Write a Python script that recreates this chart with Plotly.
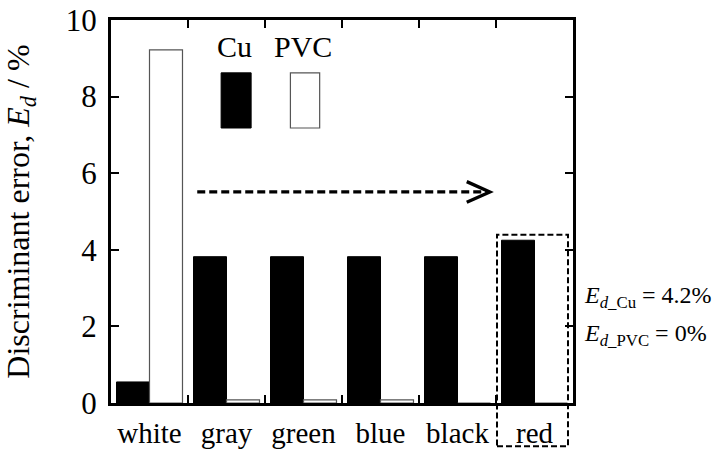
import plotly.graph_objects as go

categories = ["white", "gray", "green", "blue", "black", "red"]
cu_values = [0.55, 3.82, 3.82, 3.82, 3.82, 4.25]
pvc_values = [9.22, 0.08, 0.08, 0.08, 0.0, 0.0]
y_ticks = [0, 2, 4, 6, 8, 10]

FONT = "Liberation Serif, Times New Roman, serif"

fig = go.Figure()
fig.add_trace(go.Bar(x=categories, y=cu_values, name="Cu",
                     marker=dict(color="black", line=dict(color="black", width=1))))
fig.add_trace(go.Bar(x=categories, y=pvc_values, name="PVC",
                     marker=dict(color="white", line=dict(color="#555555", width=1.2))))

# plot area in pixels
W, H = 724, 450
L, R, T, B = 111, 151, 20, 47
n = len(categories)

def xpaper(xd):
    return (xd + 0.5) / n

def ypaper(yd):
    return yd / 10.0

shapes = []
# dashed arrow
shapes.append(dict(type="line", xref="x", yref="y", x0=0.62, x1=4.40, y0=5.51, y1=5.51,
                   line=dict(color="black", width=3.3, dash="8px,4px")))
shapes.append(dict(type="path", xref="x", yref="y",
                   path="M 4.12,5.78 L 4.42,5.51 L 4.12,5.24",
                   line=dict(color="black", width=3.3)))
# legend boxes
shapes.append(dict(type="rect", xref="x", yref="y", x0=0.93, x1=1.32, y0=7.18, y1=8.62,
                   fillcolor="black", line=dict(color="black", width=1)))
shapes.append(dict(type="rect", xref="x", yref="y", x0=1.83, x1=2.21, y0=7.18, y1=8.62,
                   fillcolor="white", line=dict(color="#555555", width=1.2)))
# dashed box around red
shapes.append(dict(type="rect", xref="paper", yref="paper",
                   x0=xpaper(4.513), x1=xpaper(5.435), y0=-0.113, y1=ypaper(4.39),
                   line=dict(color="black", width=2, dash="6px,3px")))

annotations = [
    dict(x=1.10, y=9.3, xref="x", yref="y", text="Cu", showarrow=False,
         font=dict(size=30, color="black", family=FONT)),
    dict(x=1.99, y=9.3, xref="x", yref="y", text="PVC", showarrow=False,
         font=dict(size=30, color="black", family=FONT)),
    dict(x=1.02, y=2.77, xref="paper", yref="y", xanchor="left",
         text="<i>E</i><sub><i>d</i>_Cu</sub> = 4.2%", showarrow=False,
         font=dict(size=24, color="black", family=FONT)),
    dict(x=1.02, y=1.78, xref="paper", yref="y", xanchor="left",
         text="<i>E</i><sub><i>d</i>_PVC</sub> = 0%", showarrow=False,
         font=dict(size=24, color="black", family=FONT)),
]

fig.update_layout(
    width=W, height=H,
    margin=dict(l=L, r=R, t=T, b=B, pad=0, autoexpand=False),
    paper_bgcolor="white", plot_bgcolor="white",
    barmode="group", bargap=0.143, bargroupgap=0,
    showlegend=False,
    font=dict(family=FONT, size=30, color="black"),
    shapes=shapes, annotations=annotations,
    xaxis=dict(type="category", tickson="boundaries", ticks="inside", ticklen=8,
               tickwidth=2, tickcolor="black", showline=True, linecolor="black",
               linewidth=3, mirror="ticks", showgrid=False, automargin=False,
               ticklabelstandoff=2,
               tickfont=dict(size=29, family=FONT, color="black")),
    yaxis=dict(range=[0, 10], tickvals=y_ticks, ticks="inside", ticklen=8,
               tickwidth=2, tickcolor="black", showline=True, linecolor="black",
               linewidth=3, mirror="ticks", showgrid=False, zeroline=False,
               automargin=False, ticklabelstandoff=5,
               tickfont=dict(size=31, family=FONT, color="black"),
               title=dict(text="Discriminant error, <i>E<sub>d</sub></i> / %",
                          font=dict(size=32, family=FONT, color="black"), standoff=28)),
)

fig.write_html("out.html")
